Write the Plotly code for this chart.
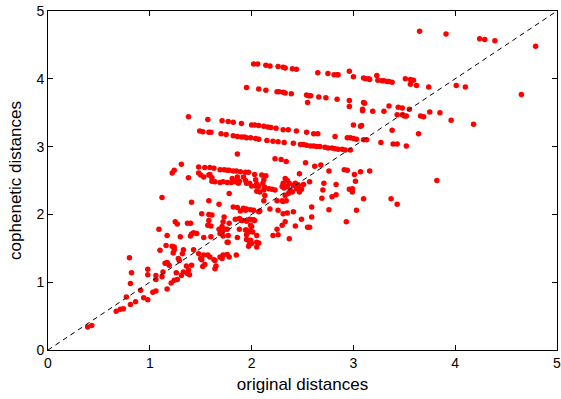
import plotly.graph_objects as go

# Pairwise distances: original (x) vs. cophenetic (y) from a hierarchical clustering.
# Grouped by the merge levels (horizontal bands) plus the scattered remainder.

band_42 = [(2.02, 4.22), (2.06, 4.22), (2.14, 4.20), (2.18, 4.19), (2.26, 4.18), (2.31, 4.17),
           (2.33, 4.16), (2.40, 4.15), (2.44, 4.14), (2.65, 4.09), (2.75, 4.08), (2.81, 4.06),
           (2.84, 4.06), (2.85, 4.06), (2.96, 4.11), (3.00, 4.03), (3.10, 4.01), (3.12, 4.00),
           (3.15, 4.00), (3.16, 3.99), (3.23, 4.05), (3.24, 3.98), (3.28, 3.97), (3.30, 3.97),
           (3.33, 3.96), (3.35, 3.96), (3.38, 3.95), (3.51, 4.00), (3.56, 3.99), (3.59, 3.98),
           (3.56, 3.92), (3.62, 3.90), (3.74, 3.88), (4.01, 3.90), (4.10, 3.88)]

band_38 = [(1.95, 3.87), (2.07, 3.85), (2.14, 3.83), (2.25, 3.81), (2.27, 3.81), (2.31, 3.80),
           (2.33, 3.79), (2.39, 3.78), (2.54, 3.76), (2.56, 3.75), (2.58, 3.75), (2.66, 3.73),
           (2.73, 3.72), (2.84, 3.70), (2.96, 3.68), (2.96, 3.59), (2.55, 3.65), (3.10, 3.65),
           (3.11, 3.64), (3.09, 3.55), (3.09, 3.53), (3.19, 3.52), (3.30, 3.52), (3.35, 3.60),
           (3.44, 3.58), (3.48, 3.57), (3.55, 3.55), (3.43, 3.47), (3.48, 3.47), (3.50, 3.45),
           (3.52, 3.45), (3.66, 3.45), (3.69, 3.44), (3.75, 3.51), (3.85, 3.50), (3.96, 3.39),
           (4.18, 3.33), (4.65, 3.77)]

band_33 = [(1.38, 3.44), (1.57, 3.40), (1.71, 3.38), (1.77, 3.37), (1.82, 3.36), (1.90, 3.34),
           (2.00, 3.32), (2.03, 3.32), (2.07, 3.31), (2.12, 3.30), (2.16, 3.29), (2.19, 3.28),
           (2.24, 3.27), (2.31, 3.25), (2.36, 3.25), (2.44, 3.23), (2.54, 3.21), (2.61, 3.19),
           (2.65, 3.19), (2.82, 3.15), (3.00, 3.32), (3.08, 3.31), (3.07, 3.30), (3.38, 3.24),
           (3.64, 3.19)]

band_31 = [(1.49, 3.23), (1.52, 3.22), (1.58, 3.21), (1.60, 3.21), (1.70, 3.19), (1.75, 3.18),
           (1.82, 3.16), (1.86, 3.15), (1.90, 3.14), (1.93, 3.14), (1.95, 3.13), (1.99, 3.13),
           (2.04, 3.12), (2.07, 3.11), (2.15, 3.09), (2.21, 3.08), (2.26, 3.07), (2.32, 3.06),
           (2.41, 3.05), (2.48, 3.03), (2.51, 3.03), (2.54, 3.02), (2.58, 3.01), (2.61, 3.01),
           (2.64, 3.00), (2.67, 3.00), (2.72, 2.99), (2.75, 2.98), (2.79, 2.98), (2.82, 2.97),
           (2.85, 2.96), (2.89, 2.96), (2.92, 2.95), (2.97, 2.95), (2.94, 3.13), (2.97, 3.13),
           (3.00, 3.12), (3.03, 3.11), (3.10, 3.10), (3.13, 3.10), (3.27, 3.06), (3.39, 3.04),
           (3.43, 3.04), (3.52, 3.01)]

band_26 = [(1.31, 2.74), (1.24, 2.65), (1.22, 2.61), (1.48, 2.70), (1.54, 2.69), (1.59, 2.69),
           (1.63, 2.68), (1.48, 2.61), (1.50, 2.58), (1.53, 2.55), (1.58, 2.58), (1.59, 2.59),
           (1.61, 2.54), (1.38, 2.54), (1.69, 2.66), (1.73, 2.66), (1.76, 2.65), (1.78, 2.65),
           (1.82, 2.64), (1.85, 2.64), (1.89, 2.63), (1.94, 2.62), (1.97, 2.62), (1.61, 2.49),
           (1.64, 2.48), (1.69, 2.47), (1.72, 2.48), (1.76, 2.47), (1.80, 2.47), (1.84, 2.48),
           (1.88, 2.49), (1.87, 2.46), (1.81, 2.53), (1.86, 2.55), (1.92, 2.55), (1.94, 2.50),
           (1.95, 2.46), (1.98, 2.46), (2.03, 2.59), (2.04, 2.51), (2.05, 2.45), (1.86, 2.89),
           (2.23, 2.82), (2.29, 2.81), (2.34, 2.78), (2.53, 2.76), (2.62, 2.71), (2.68, 2.73),
           (2.76, 2.64), (2.91, 2.66), (2.94, 2.65), (3.07, 2.63), (3.16, 2.64), (3.01, 2.59),
           (3.02, 2.49)]

mid_cluster = [(2.10, 2.58), (2.14, 2.57), (2.12, 2.51), (2.11, 2.46), (2.04, 2.42), (2.00, 2.42),
               (2.07, 2.41), (2.13, 2.40), (2.17, 2.38), (2.20, 2.37), (2.23, 2.36), (2.12, 2.36),
               (2.13, 2.28), (2.08, 2.33), (2.05, 2.34), (2.33, 2.53), (2.35, 2.50), (2.31, 2.46),
               (2.30, 2.41), (2.35, 2.41), (2.38, 2.36), (2.41, 2.43), (2.40, 2.33), (2.36, 2.31),
               (2.32, 2.39), (2.37, 2.46), (2.43, 2.46), (2.44, 2.38), (2.47, 2.33), (2.49, 2.37),
               (2.46, 2.43), (2.51, 2.44), (2.57, 2.48), (2.47, 2.60), (2.33, 2.28), (2.30, 2.20),
               (2.31, 2.19), (2.34, 2.20), (2.25, 2.20), (2.96, 2.37), (2.99, 2.38), (2.99, 2.33),
               (3.10, 2.23), (3.03, 2.06), (2.76, 2.07), (2.79, 2.26), (2.83, 2.29), (2.70, 2.36),
               (2.69, 2.24), (2.71, 2.46), (2.83, 2.44), (2.59, 2.11), (2.59, 1.96), (2.49, 1.93),
               (2.55, 1.81), (2.57, 1.81), (2.43, 1.83), (2.37, 1.64), (2.26, 1.70), (2.21, 1.69),
               (2.30, 1.84), (2.33, 1.89), (2.35, 2.02), (2.31, 2.01), (2.41, 2.04), (2.25, 1.78),
               (2.26, 2.06), (2.18, 2.08), (2.12, 2.20), (2.08, 2.05), (2.93, 1.89), (2.07, 2.04),
               (2.01, 1.92), (2.03, 1.91), (2.00, 1.82), (2.01, 1.74), (1.99, 1.62), (2.05, 1.59),
               (2.07, 1.58), (2.05, 1.52), (3.82, 2.50), (3.37, 2.23), (3.43, 2.15)]

lower_spread = [(1.09, 1.78), (1.17, 1.69), (1.30, 1.67), (1.41, 1.71), (1.43, 1.73), (1.40, 1.68),
                (1.53, 1.66), (1.69, 1.72), (1.72, 1.68), (1.77, 1.59), (1.86, 1.66), (1.95, 1.63),
                (2.00, 1.57), (2.05, 1.69), (1.98, 1.58), (1.25, 1.89), (1.27, 1.86), (1.37, 1.87),
                (1.40, 1.87), (1.51, 2.01), (1.58, 2.00), (1.61, 1.99), (1.58, 1.91), (1.72, 1.89),
                (1.78, 1.87), (1.71, 1.82), (1.68, 1.78), (1.84, 1.93), (1.88, 1.94), (1.91, 1.91),
                (1.95, 1.90), (1.57, 1.84), (1.60, 1.83), (1.73, 1.96), (1.71, 1.74), (1.74, 1.78),
                (1.76, 1.78), (1.88, 1.78), (1.77, 1.69), (1.60, 1.67), (1.98, 1.93), (2.02, 1.92),
                (1.99, 1.84), (1.95, 1.77), (1.99, 1.76), (1.95, 1.70), (1.97, 1.53), (1.12, 2.25),
                (1.41, 2.18), (1.58, 2.20), (1.68, 2.15), (1.78, 2.31), (1.82, 2.11), (1.86, 2.10),
                (1.89, 2.05), (1.92, 2.09), (1.95, 2.08), (1.99, 2.07), (2.02, 2.06), (1.94, 2.06),
                (1.90, 1.91), (1.94, 1.77), (1.97, 1.74)]

low_left = [(0.39, 0.34), (0.43, 0.36), (0.67, 0.57), (0.71, 0.60), (0.74, 0.61), (0.77, 0.78),
            (0.81, 0.67), (0.86, 0.71), (0.81, 0.98), (0.82, 1.14), (0.80, 1.36), (0.91, 0.88),
            (0.94, 0.77), (0.98, 0.74), (0.98, 1.19), (0.98, 1.11), (1.03, 0.85), (1.06, 0.87),
            (1.06, 1.10), (1.06, 1.04), (1.10, 1.47), (1.13, 1.15), (1.12, 1.08), (1.15, 1.28),
            (1.17, 1.29), (1.19, 1.25), (1.16, 1.54), (1.17, 0.90), (1.22, 1.53), (1.24, 1.52),
            (1.21, 0.99), (1.24, 1.03), (1.27, 1.04), (1.26, 1.14), (1.29, 1.32), (1.32, 1.42),
            (1.33, 1.48), (1.31, 1.10), (1.33, 1.15), (1.37, 1.13), (1.38, 1.18), (1.39, 1.11),
            (1.36, 1.24), (1.41, 1.25), (1.43, 1.48), (1.48, 1.42), (1.52, 1.23), (1.54, 1.26),
            (1.53, 1.40), (1.57, 1.40), (1.59, 1.37), (1.63, 1.33), (1.64, 1.20), (1.65, 1.24),
            (1.69, 1.37), (1.72, 1.40), (1.76, 1.41), (1.76, 1.59), (1.46, 1.72), (1.24, 1.48),
            (1.23, 1.43), (1.78, 1.37), (1.85, 1.40), (1.50, 1.35), (1.51, 1.33), (1.64, 1.32),
            (1.28, 1.35), (1.71, 1.35)]

top_right = [(3.65, 4.70), (3.91, 4.66), (4.24, 4.59), (4.29, 4.58), (4.39, 4.56), (4.79, 4.48)]

groups = [band_42, band_38, band_33, band_31, band_26, mid_cluster, lower_spread, low_left, top_right]
original = [p[0] for g in groups for p in g]
cophenetic = [p[1] for g in groups for p in g]

# reference line y = x
diag = [0, 5]
x_last_tick = 5

font_family = "Liberation Sans, Arial, sans-serif"

fig = go.Figure()
fig.add_trace(go.Scatter(x=original, y=cophenetic, mode="markers",
                         marker=dict(color="#ff0000", size=5.5, line=dict(width=0)),
                         hoverinfo="x+y"))
fig.add_trace(go.Scatter(x=diag, y=diag, mode="lines",
                         line=dict(color="black", width=1, dash="5px,4px"),
                         hoverinfo="skip"))

axis_common = dict(range=[0, 5], dtick=1, tick0=0, showgrid=False, zeroline=False,
                   showline=True, linecolor="black", linewidth=1, mirror="allticks",
                   ticks="inside", ticklen=5, tickcolor="black",
                   tickfont=dict(family=font_family, size=14, color="black"))

fig.update_layout(
    width=561, height=399,
    margin=dict(l=48, r=4, t=11, b=49),
    paper_bgcolor="white", plot_bgcolor="white",
    showlegend=False,
    xaxis=dict(axis_common, title=dict(text="original distances", standoff=8,
               font=dict(family=font_family, size=17, color="black"))),
    yaxis=dict(axis_common, title=dict(text="cophenetic distances", standoff=10,
               font=dict(family=font_family, size=17, color="black"))),
)

# the last x tick label sits at the page edge; draw it explicitly so it is not dropped
fig.add_annotation(x=x_last_tick, y=0, xref="x", yref="paper", text=str(x_last_tick),
                   showarrow=False, yanchor="top", yshift=-3, xanchor="center",
                   font=dict(family=font_family, size=14, color="black"))

fig.write_html("out.html")
